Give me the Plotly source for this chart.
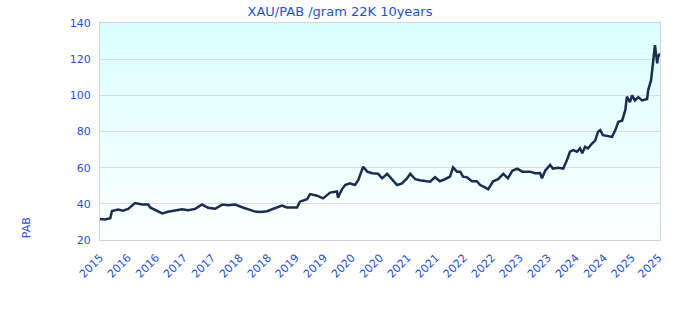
import plotly.graph_objects as go

dates = [
    "2015-11-24", "2015-12-27", "2016-01-30", "2016-02-10", "2016-03-21", "2016-04-22",
    "2016-05-26", "2016-07-09", "2016-08-25", "2016-10-04", "2016-10-16", "2016-11-17",
    "2017-01-03", "2017-02-10", "2017-03-27", "2017-05-12", "2017-06-20", "2017-08-06",
    "2017-09-20", "2017-10-29", "2017-12-14", "2018-01-30", "2018-03-10", "2018-04-23",
    "2018-06-13", "2018-07-30", "2018-09-01", "2018-10-04", "2018-11-18", "2018-12-08",
    "2019-01-23", "2019-02-23", "2019-03-27", "2019-06-01", "2019-06-20", "2019-08-06",
    "2019-08-25", "2019-10-10", "2019-11-18", "2020-01-03", "2020-02-17", "2020-02-23",
    "2020-03-20", "2020-04-10", "2020-05-12", "2020-06-13", "2020-07-05", "2020-08-06",
    "2020-09-01", "2020-10-04", "2020-11-11", "2020-12-08", "2021-01-09", "2021-02-10",
    "2021-03-15", "2021-04-16", "2021-05-19", "2021-06-09", "2021-07-12", "2021-08-10",
    "2021-09-13", "2021-10-16", "2021-11-17", "2021-12-19", "2022-01-21", "2022-02-23",
    "2022-03-15", "2022-04-10", "2022-05-01", "2022-05-19", "2022-06-13", "2022-07-16",
    "2022-08-17", "2022-09-08", "2022-10-10", "2022-10-30", "2022-12-01", "2023-01-03",
    "2023-02-06", "2023-03-08", "2023-04-06", "2023-05-08", "2023-06-09", "2023-07-30",
    "2023-09-01", "2023-10-04", "2023-10-16", "2023-11-06", "2023-12-08", "2023-12-27",
    "2024-01-29", "2024-03-03", "2024-03-27", "2024-04-16", "2024-05-07", "2024-06-01",
    "2024-06-20", "2024-07-05", "2024-07-23", "2024-08-11", "2024-09-08", "2024-09-27",
    "2024-10-16", "2024-10-30", "2024-11-17", "2024-12-14", "2025-01-15", "2025-02-06",
    "2025-02-25", "2025-03-22", "2025-04-12", "2025-04-22", "2025-05-12", "2025-05-26",
    "2025-06-13", "2025-07-05", "2025-07-30", "2025-09-01", "2025-09-08", "2025-09-27",
    "2025-10-10", "2025-10-22", "2025-11-06", "2025-11-10", "2025-11-24",
]
prices = [
    31.6, 31.3, 32.0, 36.0, 36.8, 36.2,
    37.2, 40.4, 39.6, 39.6, 38.0, 36.6,
    34.7, 35.6, 36.5, 37.0, 36.4, 37.2,
    39.6, 37.8, 37.3, 39.6, 39.2, 39.6,
    38.0, 36.6, 35.7, 35.5, 35.9, 36.6,
    38.0, 39.0, 38.0, 38.0, 41.2, 42.5,
    45.4, 44.5, 43.0, 46.2, 46.8, 43.4,
    48.0, 50.4, 51.3, 50.4, 53.2, 60.5,
    57.8, 56.9, 56.6, 54.1, 56.6, 53.6,
    50.4, 51.3, 54.1, 56.6, 53.6, 53.0,
    52.5, 52.2, 54.7, 52.5, 53.6, 55.0,
    60.2, 57.8, 57.8, 55.0, 54.7, 52.5,
    52.5, 50.4, 49.1, 48.0, 52.5, 53.6,
    56.6, 54.1, 58.3, 59.5, 57.8, 57.8,
    56.9, 57.0, 54.1, 58.3, 61.5, 59.5,
    60.0, 59.5, 64.2, 68.8, 69.7, 68.8,
    70.7, 68.0, 71.6, 70.7, 73.5, 75.0,
    79.9, 80.8, 78.0, 77.5, 77.0, 80.8,
    85.4, 86.0, 91.9, 99.3, 96.3, 100.0,
    97.2, 99.0, 97.2, 98.0, 102.9, 108.5,
    117.7, 127.8, 117.7, 121.0, 123.2,
]

tick_dates = [
    "2015-11-24", "2016-05-24", "2016-11-24", "2017-05-24", "2017-11-24", "2018-05-24",
    "2018-11-24", "2019-05-24", "2019-11-24", "2020-05-24", "2020-11-24", "2021-05-24",
    "2021-11-24", "2022-05-24", "2022-11-24", "2023-05-24", "2023-11-24", "2024-05-24",
    "2024-11-24", "2025-05-24", "2025-11-14",
]
tick_labels = [
    "2015", "2016", "2016", "2017", "2017", "2018", "2018", "2019", "2019", "2020", "2020",
    "2021", "2021", "2022", "2022", "2023", "2023", "2024", "2024", "2025", "2025",
]
y_ticks = [20, 40, 60, 80, 100, 120, 140]

BLUE = "#1f52d6"
FONT = "DejaVu Sans"

fig = go.Figure()
fig.add_trace(go.Scatter(
    x=dates, y=prices, mode="lines",
    line=dict(color="#1b2d4f", width=2.5),
    hoverinfo="x+y", showlegend=False,
))

# vertical gradient background of the plot area
n = 40
top = (217, 255, 255)
bot = (252, 255, 255)
shapes = []
for i in range(n):
    t = i / (n - 1)
    r = round(top[0] + (bot[0] - top[0]) * t)
    g = round(top[1] + (bot[1] - top[1]) * t)
    b = round(top[2] + (bot[2] - top[2]) * t)
    y1 = 1 - i / n
    y0 = 1 - (i + 1) / n
    shapes.append(dict(
        type="rect", xref="paper", yref="paper", x0=0, x1=1, y0=y0, y1=y1,
        fillcolor=f"rgb({r},{g},{b})", line=dict(width=0), layer="below",
    ))

fig.update_layout(
    width=680, height=320,
    margin=dict(l=100, r=20, t=23, b=80),
    paper_bgcolor="white",
    plot_bgcolor="rgba(0,0,0,0)",
    shapes=shapes,
    title=dict(
        text="XAU/PAB /gram 22K 10years",
        x=0.5, xanchor="center", xref="container",
        y=1 - 11 / 320, yanchor="middle", yref="container",
        font=dict(family=FONT, size=13, color=BLUE),
    ),
    font=dict(family=FONT, size=11, color=BLUE),
    xaxis=dict(
        type="date",
        range=["2015-11-24", "2025-11-24"],
        tickmode="array", tickvals=tick_dates, ticktext=tick_labels,
        tickangle=-45,
        tickfont=dict(family=FONT, size=11, color=BLUE),
        showgrid=False, zeroline=False,
        showline=True, linecolor="#d4d4d4", linewidth=1, mirror=True,
        ticks="", ticklabelstandoff=6,
    ),
    yaxis=dict(
        range=[20, 140],
        tickmode="array", tickvals=y_ticks,
        tickfont=dict(family=FONT, size=11, color=BLUE),
        showgrid=True, gridcolor="#dcdcdc", gridwidth=1,
        zeroline=False,
        showline=True, linecolor="#d4d4d4", linewidth=1, mirror=True,
        ticks="", ticklabelstandoff=6,
    ),
    annotations=[dict(
        text="PAB", xref="paper", yref="paper",
        x=-0.132, y=0.055, xanchor="center", yanchor="middle",
        textangle=-90, showarrow=False,
        font=dict(family=FONT, size=11, color=BLUE),
    )],
)

fig.write_html("out.html")
